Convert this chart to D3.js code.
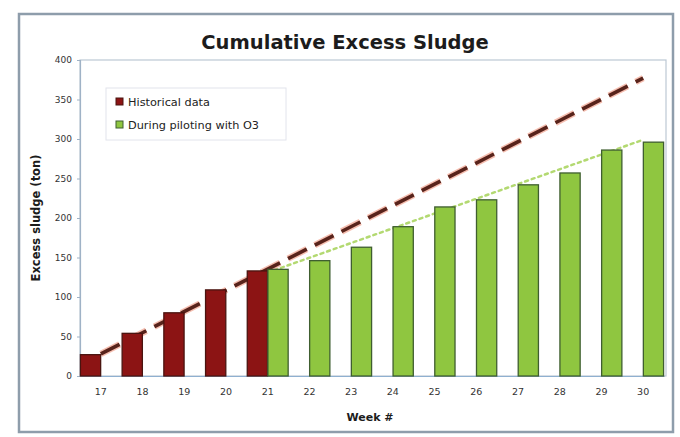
<!DOCTYPE html>
<html>
<head>
<meta charset="utf-8">
<script src="https://cdn.jsdelivr.net/npm/d3@7"></script>
<style>
  html, body { margin: 0; padding: 0; background: #ffffff; }
  svg { display: block; font-family: "DejaVu Sans", Verdana, sans-serif; }
</style>
</head>
<body>
<svg id="chart" width="680" height="437"></svg>
<script>
// Weeks on the category axis
const weeks = ["17", "18", "19", "20", "21", "22", "23", "24", "25", "26", "27", "28", "29", "30"];

// Cumulative excess sludge (ton) before piloting
const historicalWeeks = ["17", "18", "19", "20", "21"];
const historicalValues = [27, 54, 80, 109, 133];

// Cumulative excess sludge (ton) while piloting with O3
const pilotWeeks = ["21", "22", "23", "24", "25", "26", "27", "28", "29", "30"];
const pilotValues = [135, 146, 163, 189, 214, 223, 242, 257, 286, 296];

// Linear trend end points for each series
const historicalTrendWeeks = ["17", "30"];
const historicalTrendValues = [28, 377];
const pilotTrendWeeks = ["21", "30"];
const pilotTrendValues = [131, 299];

const yTicks = [0, 50, 100, 150, 200, 250, 300, 350, 400];
const seriesNames = ["Historical data", "During piloting with O3"];

const svg = d3.select("#chart");
const plot = { left: 80, right: 664, top: 60, bottom: 376 };

// Outer chart frame
svg.append("rect")
  .attr("x", 19).attr("y", 14).attr("width", 654).attr("height", 418)
  .attr("fill", "#ffffff").attr("stroke", "#8e9dab").attr("stroke-width", 2.5);

// Plot area outline
svg.append("rect")
  .attr("x", plot.left).attr("y", plot.top)
  .attr("width", plot.right - plot.left + 2).attr("height", plot.bottom - plot.top)
  .attr("fill", "none").attr("stroke", "#bcc8d4").attr("stroke-width", 1.2);

const x = d3.scaleBand().domain(weeks).range([plot.left, plot.right]).padding(0);
const slot = d3.scaleBand().domain(["hist", "pilot"]).range([0, x.bandwidth()]).padding(0.02);
const y = d3.scaleLinear().domain([0, 400]).range([plot.bottom, plot.top]);

// Y axis
const yAxis = svg.append("g")
  .attr("transform", `translate(${plot.left},0)`)
  .call(d3.axisLeft(y).tickValues(yTicks).tickSize(3).tickPadding(5));
yAxis.select(".domain").attr("stroke", "#9fb2c6").attr("stroke-width", 1.2);
yAxis.selectAll(".tick line").attr("stroke", "#9fb2c6");
yAxis.selectAll(".tick text")
  .attr("font-family", "DejaVu Sans, Verdana, sans-serif")
  .attr("font-size", 9).attr("fill", "#333");

// X axis
const xAxis = svg.append("g")
  .attr("transform", `translate(0,${plot.bottom})`)
  .call(d3.axisBottom(x).tickSize(0).tickPadding(12));
xAxis.select(".domain").attr("stroke", "#8fb0d0").attr("stroke-width", 1.2);
xAxis.selectAll(".tick text")
  .attr("font-family", "DejaVu Sans, Verdana, sans-serif")
  .attr("font-size", 9.5).attr("fill", "#333");

// Linear trends (drawn beneath the bars)
const center = w => x(w) + x.bandwidth() / 2;
const line = d3.line().x(d => center(d.week)).y(d => y(d.value));
const pilotTrend = pilotTrendWeeks.map((w, i) => ({ week: w, value: pilotTrendValues[i] }));
const histTrend = historicalTrendWeeks.map((w, i) => ({ week: w, value: historicalTrendValues[i] }));

svg.append("path").datum(pilotTrend).attr("d", line)
  .attr("fill", "none").attr("stroke", "#b3d971").attr("stroke-width", 2.5)
  .attr("stroke-dasharray", "3,4").attr("stroke-linecap", "round");

svg.append("path").datum(histTrend).attr("d", line)
  .attr("fill", "none").attr("stroke", "#f2a896").attr("stroke-width", 6.5)
  .attr("stroke-dasharray", "21,9").attr("opacity", 0.75);
svg.append("path").datum(histTrend).attr("d", line)
  .attr("fill", "none").attr("stroke", "#58231b").attr("stroke-width", 3.6)
  .attr("stroke-dasharray", "21,9");

// Bars
const historical = historicalWeeks.map((w, i) => ({ week: w, value: historicalValues[i] }));
const pilot = pilotWeeks.map((w, i) => ({ week: w, value: pilotValues[i] }));

svg.append("g").selectAll("rect").data(historical).join("rect")
  .attr("x", d => x(d.week) + slot("hist"))
  .attr("y", d => y(d.value))
  .attr("width", slot.bandwidth())
  .attr("height", d => y(0) - y(d.value))
  .attr("fill", "#8c1414").attr("stroke", "#4a1410").attr("stroke-width", 1.3);

svg.append("g").selectAll("rect").data(pilot).join("rect")
  .attr("x", d => x(d.week) + slot("pilot"))
  .attr("y", d => y(d.value))
  .attr("width", slot.bandwidth())
  .attr("height", d => y(0) - y(d.value))
  .attr("fill", "#8fc640").attr("stroke", "#3f5e30").attr("stroke-width", 1.3);

// Title
svg.append("text")
  .attr("x", 345).attr("y", 49)
  .attr("text-anchor", "middle")
  .attr("font-size", 19.5).attr("font-weight", "bold").attr("fill", "#1c1c1c")
  .text("Cumulative Excess Sludge");

// Axis titles
svg.append("text")
  .attr("transform", "translate(40,218) rotate(-90)")
  .attr("text-anchor", "middle")
  .attr("font-size", 11.5).attr("font-weight", "bold").attr("fill", "#1c1c1c")
  .text("Excess sludge (ton)");

svg.append("text")
  .attr("x", 370).attr("y", 421)
  .attr("text-anchor", "middle")
  .attr("font-size", 11).attr("font-weight", "bold").attr("fill", "#1c1c1c")
  .text("Week #");

// Legend
const legend = svg.append("g");
legend.append("rect")
  .attr("x", 106).attr("y", 88).attr("width", 180).attr("height", 52)
  .attr("fill", "#ffffff").attr("stroke", "#e2e4ec").attr("stroke-width", 1);
const legendColors = [["#8c1414", "#4a1410"], ["#8fc640", "#3f5e30"]];
seriesNames.forEach((name, i) => {
  legend.append("rect")
    .attr("x", 116).attr("y", 98 + i * 23).attr("width", 7).attr("height", 7)
    .attr("fill", legendColors[i][0]).attr("stroke", legendColors[i][1]).attr("stroke-width", 1);
  legend.append("text")
    .attr("x", 128).attr("y", 106 + i * 23)
    .attr("font-size", 11.3).attr("fill", "#222")
    .text(name);
});
</script>
</body>
</html>
